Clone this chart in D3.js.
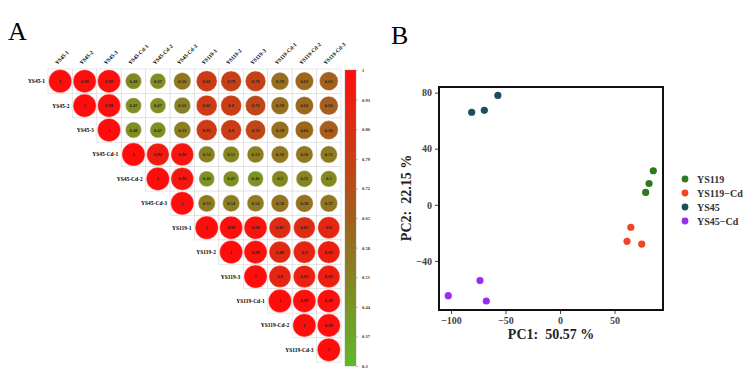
<!DOCTYPE html>
<html>
<head>
<meta charset="utf-8">
<script src="https://cdn.jsdelivr.net/npm/d3@7"></script>
<style>
  body { margin: 0; background: #fff; }
  svg { display: block; font-family: "Liberation Serif", "Times New Roman", serif; }
</style>
</head>
<body>
<div id="chart"></div>
<script>
const width = 748;
const height = 381;

// samples of the correlation matrix
const samples = ["YS45-1", "YS45-2", "YS45-3", "YS45-Cd-1", "YS45-Cd-2", "YS45-Cd-3",
  "YS119-1", "YS119-2", "YS119-3", "YS119-Cd-1", "YS119-Cd-2", "YS119-Cd-3"];

// upper triangle, each row starts at the diagonal
const corrRows = [
  [1, 0.99, 0.99, 0.49, 0.47, 0.56, 0.81, 0.79, 0.78, 0.59, 0.62, 0.65],
  [1, 0.99, 0.47, 0.47, 0.52, 0.81, 0.8, 0.76, 0.59, 0.62, 0.66],
  [1, 0.48, 0.47, 0.53, 0.81, 0.8, 0.76, 0.59, 0.62, 0.66],
  [1, 0.94, 0.96, 0.52, 0.51, 0.53, 0.56, 0.56, 0.55],
  [1, 0.96, 0.46, 0.47, 0.46, 0.5, 0.51, 0.5],
  [1, 0.55, 0.54, 0.54, 0.58, 0.58, 0.57],
  [1, 0.99, 0.98, 0.87, 0.87, 0.9],
  [1, 0.99, 0.88, 0.9, 0.93],
  [1, 0.9, 0.92, 0.93],
  [1, 0.99, 0.99],
  [1, 0.99],
  [1]
];

const colorTicks = [1, 0.93, 0.86, 0.79, 0.72, 0.65, 0.58, 0.51, 0.44, 0.37, 0.3];

// PCA scores
const groups = ["YS119", "YS119−Cd", "YS45", "YS45−Cd"];
const groupColors = ["#2f7a1f", "#f0442a", "#1b4f5e", "#9a2cf0"];
const pcaPoints = [
  { g: "YS119", pc1: 85.6, pc2: 24.3 },
  { g: "YS119", pc1: 81.7, pc2: 15.2 },
  { g: "YS119", pc1: 78.6, pc2: 8.8 },
  { g: "YS119−Cd", pc1: 65, pc2: -16 },
  { g: "YS119−Cd", pc1: 61.5, pc2: -26 },
  { g: "YS119−Cd", pc1: 75, pc2: -28 },
  { g: "YS45", pc1: -81, pc2: 66 },
  { g: "YS45", pc1: -69.4, pc2: 67.4 },
  { g: "YS45", pc1: -57, pc2: 78 },
  { g: "YS45−Cd", pc1: -102.5, pc2: -64.8 },
  { g: "YS45−Cd", pc1: -73.4, pc2: -54 },
  { g: "YS45−Cd", pc1: -67.6, pc2: -68.6 }
];
const xTicks = [-100, -50, 0, 50];
const yTicks = [-40, 0, 40, 80];

const svg = d3.select("#chart").append("svg")
  .attr("width", width)
  .attr("height", height);

// ---------- panel A ----------
svg.append("text")
  .attr("x", 8).attr("y", 40)
  .attr("font-size", 26)
  .text("A");

const cells = [];
corrRows.forEach((row, i) => {
  row.forEach((v, k) => cells.push({ i: i, j: i + k, v: v }));
});

const grid = d3.scaleBand()
  .domain(d3.range(samples.length))
  .range([48, 341]);

const gridY = d3.scaleBand()
  .domain(d3.range(samples.length))
  .range([69, 362]);

const corrColor = d3.scaleLinear()
  .domain([0.3, 0.65, 1])
  .range(["#5fba2a", "#a2601c", "#ff0d0d"]);

const radius = d3.scaleSqrt().domain([0, 1]).range([0, 11.6]);

const heat = svg.append("g");

heat.selectAll("rect.cell")
  .data(cells)
  .join("rect")
  .attr("class", "cell")
  .attr("x", d => grid(d.j))
  .attr("y", d => gridY(d.i))
  .attr("width", grid.bandwidth())
  .attr("height", gridY.bandwidth())
  .attr("fill", "#fff")
  .attr("stroke", "#d9d9d9")
  .attr("stroke-width", 0.6);

heat.selectAll("circle")
  .data(cells)
  .join("circle")
  .attr("cx", d => grid(d.j) + grid.bandwidth() / 2)
  .attr("cy", d => gridY(d.i) + gridY.bandwidth() / 2)
  .attr("r", d => radius(d.v))
  .attr("fill", d => corrColor(d.v))
  .attr("stroke", "#fff")
  .attr("stroke-opacity", 0.5)
  .attr("stroke-width", 0.8);

heat.selectAll("text.val")
  .data(cells)
  .join("text")
  .attr("class", "val")
  .attr("x", d => grid(d.j) + grid.bandwidth() / 2)
  .attr("y", d => gridY(d.i) + gridY.bandwidth() / 2 + 1.5)
  .attr("text-anchor", "middle")
  .attr("font-size", 4.5)
  .attr("font-weight", "bold")
  .attr("fill", "#222")
  .text(d => d.v);

// row labels, left of the diagonal
heat.selectAll("text.rowlab")
  .data(samples)
  .join("text")
  .attr("class", "rowlab")
  .attr("x", (d, i) => grid(i) - 3)
  .attr("y", (d, i) => gridY(i) + gridY.bandwidth() / 2 + 2)
  .attr("text-anchor", "end")
  .attr("font-size", 5.5)
  .attr("font-weight", "bold")
  .text(d => d);

// column labels, rotated
heat.selectAll("text.collab")
  .data(samples)
  .join("text")
  .attr("class", "collab")
  .attr("transform", (d, i) => `translate(${grid(i) + grid.bandwidth() / 2 - 3},65) rotate(-45)`)
  .attr("font-size", 5.5)
  .attr("font-weight", "bold")
  .text(d => d);

// colour bar
const barScale = d3.scaleLinear().domain([0.3, 1]).range([366, 70]);
const defs = svg.append("defs");
const grad = defs.append("linearGradient")
  .attr("id", "corrGrad")
  .attr("x1", 0).attr("y1", 1).attr("x2", 0).attr("y2", 0);
grad.selectAll("stop")
  .data(d3.range(0, 1.0001, 0.1))
  .join("stop")
  .attr("offset", t => t)
  .attr("stop-color", t => corrColor(0.3 + t * 0.7));

svg.append("rect")
  .attr("x", 345)
  .attr("y", barScale(1))
  .attr("width", 11)
  .attr("height", barScale(0.3) - barScale(1))
  .attr("fill", "url(#corrGrad)")
  .attr("stroke", "#888")
  .attr("stroke-width", 0.4);

const barAxis = svg.append("g")
  .attr("transform", "translate(356,0)")
  .call(d3.axisRight(barScale).tickValues(colorTicks).tickSize(2).tickFormat(d => d));
barAxis.select(".domain").remove();
barAxis.selectAll("line").attr("stroke", "#666").attr("stroke-width", 0.4);
barAxis.selectAll("text")
  .attr("x", 6)
  .attr("font-size", 4.5)
  .attr("font-family", "Liberation Serif")
  .attr("font-weight", "bold")
  .attr("fill", "#333");

// ---------- panel B ----------
svg.append("text")
  .attr("x", 391).attr("y", 44)
  .attr("font-size", 26)
  .text("B");

const px = d3.scaleLinear().domain([-111, 94.5]).range([439, 663]);
const py = d3.scaleLinear().domain([-75, 84]).range([310, 87]);
const color = d3.scaleOrdinal().domain(groups).range(groupColors);

svg.append("rect")
  .attr("x", 439).attr("y", 87)
  .attr("width", 224).attr("height", 223)
  .attr("fill", "none")
  .attr("stroke", "#111")
  .attr("stroke-width", 2);

const xAxis = svg.append("g")
  .attr("transform", "translate(0,311)")
  .call(d3.axisBottom(px).tickValues(xTicks).tickSize(3).tickFormat(d => d < 0 ? "−" + Math.abs(d) : d));
const yAxis = svg.append("g")
  .attr("transform", "translate(438,0)")
  .call(d3.axisLeft(py).tickValues(yTicks).tickSize(3).tickFormat(d => d < 0 ? "−" + Math.abs(d) : d));
[xAxis, yAxis].forEach(a => {
  a.select(".domain").remove();
  a.selectAll("line").attr("stroke", "#444");
  a.selectAll("text")
    .attr("font-family", "Liberation Serif")
    .attr("font-size", 10)
    .attr("font-weight", "bold")
    .attr("fill", "#444");
});

svg.selectAll("circle.pt")
  .data(pcaPoints)
  .join("circle")
  .attr("class", "pt")
  .attr("cx", d => px(d.pc1))
  .attr("cy", d => py(d.pc2))
  .attr("r", 3.6)
  .attr("fill", d => color(d.g));

svg.append("text")
  .attr("x", 551).attr("y", 339)
  .attr("text-anchor", "middle")
  .attr("font-size", 14)
  .attr("font-weight", "bold")
  .attr("fill", "#222")
  .attr("xml:space", "preserve")
  .text("PC1:  50.57 %");

svg.append("text")
  .attr("transform", "translate(411,198) rotate(-90)")
  .attr("text-anchor", "middle")
  .attr("font-size", 14)
  .attr("font-weight", "bold")
  .attr("fill", "#222")
  .attr("xml:space", "preserve")
  .text("PC2:  22.15 %");

const legend = svg.selectAll("g.leg")
  .data(groups)
  .join("g")
  .attr("class", "leg")
  .attr("transform", (d, i) => `translate(685,${179 + i * 14})`);
legend.append("circle")
  .attr("r", 3.4)
  .attr("fill", d => color(d));
legend.append("text")
  .attr("x", 12)
  .attr("y", 3.5)
  .attr("font-size", 10)
  .attr("font-weight", "bold")
  .attr("fill", "#333")
  .text(d => d);
</script>
</body>
</html>
